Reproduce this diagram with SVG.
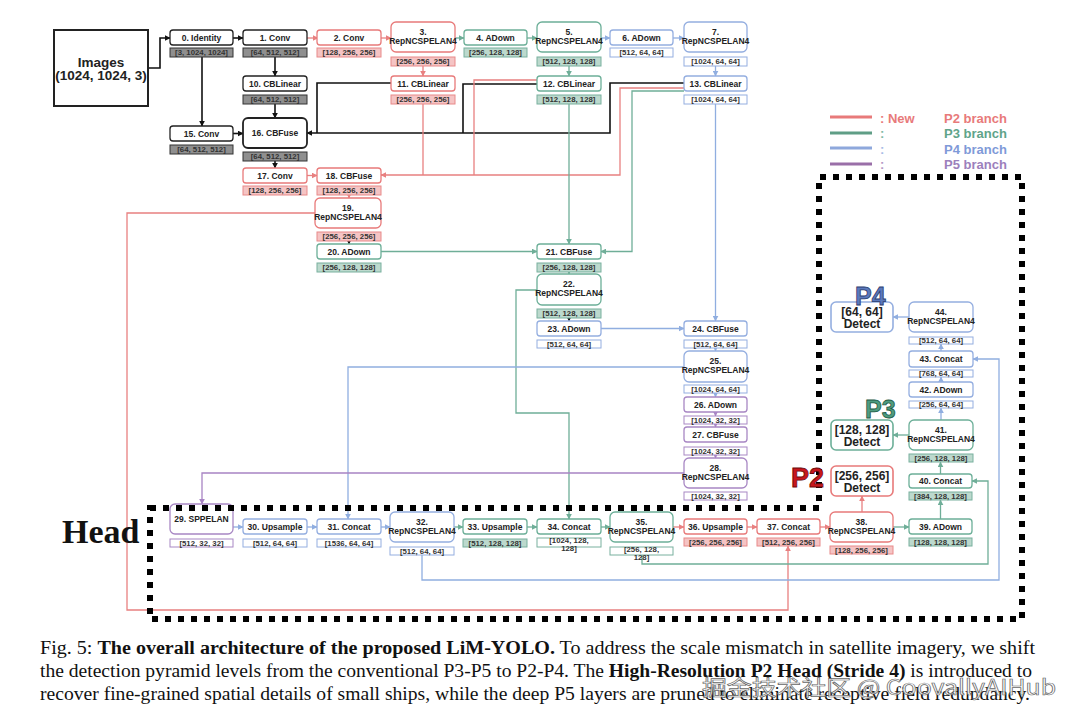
<svg xmlns="http://www.w3.org/2000/svg" width="1080" height="719" viewBox="0 0 1080 719">
<style>
.n{fill:#fff;stroke-width:1.3;rx:3px}
.n2{fill:#fff;stroke-width:1.3;rx:5px}
.k{stroke:#222}.r{stroke:#e87a7a}.g{stroke:#6caf98}.b{stroke:#94aee0}.p{stroke:#a887c4}
.l{stroke-width:1}
.lk{fill:#8f8f8f;stroke:#333}.lr{fill:#f5c4c4;stroke:#e88a8a}.lg{fill:#bcd9cd;stroke:#79b09e}.lb{fill:#fff;stroke:#94aee0}.lp{fill:#fff;stroke:#a887c4}
.t{font-family:"Liberation Sans",Arial,sans-serif;font-weight:bold;font-size:8.5px;fill:#222;text-anchor:middle}
.lt{font-family:"Liberation Sans",Arial,sans-serif;font-weight:bold;font-size:7.8px;fill:#333;text-anchor:middle}
.c{fill:none;stroke-width:1.3}
.ck{stroke:#111;stroke-width:1.6}.cr{stroke:#e88080}.cg{stroke:#6fae98}.cb{stroke:#90aee0}.cp{stroke:#a884c4}
.leg{font-family:"Liberation Sans",Arial,sans-serif;font-weight:bold;font-size:13px}
.det{font-family:"Liberation Sans",Arial,sans-serif;font-weight:bold;font-size:12px;fill:#222;text-anchor:middle}
.cap{font-family:"Liberation Serif","Times New Roman",serif;font-size:18px;fill:#111}
</style>
<defs>
<marker id="ak" viewBox="0 0 10 10" refX="9" refY="5" markerWidth="6" markerHeight="6" markerUnits="userSpaceOnUse" orient="auto"><path d="M0,0L10,5L0,10z" fill="#111"/></marker>
<marker id="ar" viewBox="0 0 10 10" refX="9" refY="5" markerWidth="6" markerHeight="6" markerUnits="userSpaceOnUse" orient="auto"><path d="M0,0L10,5L0,10z" fill="#e88080"/></marker>
<marker id="ag" viewBox="0 0 10 10" refX="9" refY="5" markerWidth="6" markerHeight="6" markerUnits="userSpaceOnUse" orient="auto"><path d="M0,0L10,5L0,10z" fill="#6fae98"/></marker>
<marker id="ab" viewBox="0 0 10 10" refX="9" refY="5" markerWidth="6" markerHeight="6" markerUnits="userSpaceOnUse" orient="auto"><path d="M0,0L10,5L0,10z" fill="#90aee0"/></marker>
<marker id="ap" viewBox="0 0 10 10" refX="9" refY="5" markerWidth="6" markerHeight="6" markerUnits="userSpaceOnUse" orient="auto"><path d="M0,0L10,5L0,10z" fill="#a884c4"/></marker>
</defs>
<rect width="1080" height="719" fill="#fff"/>

<g id="connectors">
<g class="c ck" marker-end="url(#ak)">
<path d="M148,68H160V38H170"/><path d="M233,38H243"/><path d="M275,57V76"/><path d="M275,104V118"/><path d="M202,57V126"/><path d="M233,133.5H243"/><path d="M275,161V168"/><path d="M684,83H610V133H307"/><path d="M349,241V244" style="stroke-width:1"/><path d="M569,318V321" style="stroke-width:1"/>
</g>
<g class="c ck"><path d="M391,83H317V133"/><path d="M537,84H463V133"/></g>
<g class="c cr" marker-end="url(#ar)">
<path d="M307,38H318"/><path d="M381,38H391"/><path d="M423,66V76"/><path d="M307,175.5H317"/><path d="M349,195V198"/><path d="M684,88H620V175H381"/><path d="M317,213H127V610H788V546"/><path d="M673,527H684"/><path d="M747,527H757"/><path d="M820,527H830"/><path d="M862,512V496"/>
</g>
<g class="c cr"><path d="M423,104V175"/><path d="M537,80H474V175"/></g>
<g class="c cg" marker-end="url(#ag)">
<path d="M455,38H464"/><path d="M527,38H537"/><path d="M569,66V76"/><path d="M569,104V244"/><path d="M381,251.5H537"/><path d="M684,91H632V251.5H601"/><path d="M569,272V274"/><path d="M537,290H516V413H569V519"/><path d="M454,527H463"/><path d="M527,527H537"/><path d="M601,527H610"/><path d="M642,555V564H988V481H972"/><path d="M893,527H909"/><path d="M940.5,519V500"/><path d="M940.5,474V462"/><path d="M909,435H893"/>
</g>
<g class="c cb" marker-end="url(#ab)">
<path d="M601,38H610"/><path d="M673,38H684"/><path d="M715.5,66V76"/><path d="M715.5,104V321"/><path d="M601,328.5H684"/><path d="M715.5,348V351"/><path d="M684,367H348V519"/><path d="M233,527H243"/><path d="M307,527H317"/><path d="M381,527H390"/><path d="M422,555V580H999V359H973"/><path d="M941,420V408"/><path d="M941,382V377"/><path d="M941,351V344"/><path d="M909,317H893"/><path d="M715.5,393V397"/>
</g>
<g class="c cp" marker-end="url(#ap)">
<path d="M715.5,412V416"/><path d="M715.5,424V427"/><path d="M715.5,455V458"/><path d="M684,473H202V504"/>
</g>
</g>

<g id="images"><rect x="54" y="30" width="94" height="76" fill="#fff" stroke="#222" stroke-width="2"/><text x="101" y="67" style="font-family:'Liberation Sans',Arial,sans-serif;font-weight:bold;font-size:13.5px;fill:#222;text-anchor:middle">Images</text><text x="101" y="80" style="font-family:'Liberation Sans',Arial,sans-serif;font-weight:bold;font-size:13.5px;fill:#222;text-anchor:middle">(1024, 1024, 3)</text></g>

<g id="n0"><rect class="n k" x="170" y="30" width="63" height="15"/><text class="t" x="201.5" y="40.5">0. Identity</text><rect class="l lk" x="170" y="48" width="63" height="9"/><text class="lt" x="201.5" y="55.3">[3, 1024, 1024]</text></g>
<g id="n1"><rect class="n k" x="243" y="30" width="64" height="15"/><text class="t" x="275" y="40.5">1. Conv</text><rect class="l lk" x="243" y="48" width="64" height="9"/><text class="lt" x="275" y="55.3">[64, 512, 512]</text></g>
<g id="n2"><rect class="n r" x="317" y="30" width="64" height="15"/><text class="t" x="349" y="40.5">2. Conv</text><rect class="l lr" x="317" y="48" width="64" height="9"/><text class="lt" x="349" y="55.3">[128, 256, 256]</text></g>
<g id="n3"><rect class="n2 r" x="391" y="22" width="64" height="30"/><text class="t" x="423" y="35">3.</text><text class="t" x="423" y="44">RepNCSPELAN4</text><rect class="l lr" x="391" y="57" width="64" height="9"/><text class="lt" x="423" y="64.3">[256, 256, 256]</text></g>
<g id="n4"><rect class="n g" x="464" y="30" width="63" height="15"/><text class="t" x="495.5" y="40.5">4. ADown</text><rect class="l lg" x="464" y="48" width="63" height="9"/><text class="lt" x="495.5" y="55.3">[256, 128, 128]</text></g>
<g id="n5"><rect class="n2 g" x="537" y="22" width="64" height="30"/><text class="t" x="569" y="35">5.</text><text class="t" x="569" y="44">RepNCSPELAN4</text><rect class="l lg" x="537" y="57" width="64" height="9"/><text class="lt" x="569" y="64.3">[512, 128, 128]</text></g>
<g id="n6"><rect class="n b" x="610" y="30" width="63" height="15"/><text class="t" x="641.5" y="40.5">6. ADown</text><rect class="l lb" x="610" y="48" width="63" height="9"/><text class="lt" x="641.5" y="55.3">[512, 64, 64]</text></g>
<g id="n7"><rect class="n2 b" x="684" y="22" width="63" height="30"/><text class="t" x="715.5" y="35">7.</text><text class="t" x="715.5" y="44">RepNCSPELAN4</text><rect class="l lb" x="684" y="57" width="63" height="9"/><text class="lt" x="715.5" y="64.3">[1024, 64, 64]</text></g>
<g id="n10"><rect class="n k" x="243" y="76" width="64" height="15"/><text class="t" x="275" y="86.5">10. CBLinear</text><rect class="l lk" x="243" y="95" width="64" height="9"/><text class="lt" x="275" y="102.3">[64, 512, 512]</text></g>
<g id="n11"><rect class="n r" x="391" y="76" width="64" height="15"/><text class="t" x="423" y="86.5">11. CBLinear</text><rect class="l lr" x="391" y="95" width="64" height="9"/><text class="lt" x="423" y="102.3">[256, 256, 256]</text></g>
<g id="n12"><rect class="n g" x="537" y="76" width="64" height="15"/><text class="t" x="569" y="86.5">12. CBLinear</text><rect class="l lg" x="537" y="95" width="64" height="9"/><text class="lt" x="569" y="102.3">[512, 128, 128]</text></g>
<g id="n13"><rect class="n b" x="684" y="76" width="63" height="15"/><text class="t" x="715.5" y="86.5">13. CBLinear</text><rect class="l lb" x="684" y="95" width="63" height="9"/><text class="lt" x="715.5" y="102.3">[1024, 64, 64]</text></g>
<g id="n15"><rect class="n k" x="170" y="126" width="63" height="15"/><text class="t" x="201.5" y="136.5">15. Conv</text><rect class="l lk" x="170" y="145" width="63" height="9"/><text class="lt" x="201.5" y="152.3">[64, 512, 512]</text></g>
<g id="n16"><rect class="n2 k" x="243" y="118" width="64" height="30" style="stroke-width:1.8"/><text class="t" x="275" y="136">16. CBFuse</text><rect class="l lk" x="243" y="152" width="64" height="9"/><text class="lt" x="275" y="159.3">[64, 512, 512]</text></g>
<g id="n17"><rect class="n r" x="243" y="168" width="64" height="15"/><text class="t" x="275" y="178.5">17. Conv</text><rect class="l lr" x="243" y="186" width="64" height="9"/><text class="lt" x="275" y="193.3">[128, 256, 256]</text></g>
<g id="n18"><rect class="n r" x="317" y="168" width="64" height="15"/><text class="t" x="349" y="178.5">18. CBFuse</text><rect class="l lr" x="317" y="186" width="64" height="9"/><text class="lt" x="349" y="193.3">[128, 256, 256]</text></g>
<g id="n19"><rect class="n2 r" x="315" y="198" width="66" height="30"/><text class="t" x="348" y="211">19.</text><text class="t" x="348" y="220">RepNCSPELAN4</text><rect class="l lr" x="317" y="232" width="64" height="9"/><text class="lt" x="349" y="239.3">[256, 256, 256]</text></g>
<g id="n20"><rect class="n g" x="317" y="244" width="64" height="15"/><text class="t" x="349" y="254.5">20. ADown</text><rect class="l lg" x="317" y="263" width="64" height="9"/><text class="lt" x="349" y="270.3">[256, 128, 128]</text></g>
<g id="n21"><rect class="n g" x="537" y="244" width="64" height="15"/><text class="t" x="569" y="254.5">21. CBFuse</text><rect class="l lg" x="537" y="263" width="64" height="9"/><text class="lt" x="569" y="270.3">[256, 128, 128]</text></g>
<g id="n22"><rect class="n2 g" x="537" y="274" width="64" height="31"/><text class="t" x="569" y="287">22.</text><text class="t" x="569" y="296">RepNCSPELAN4</text><rect class="l lg" x="537" y="309" width="64" height="9"/><text class="lt" x="569" y="316.3">[512, 128, 128]</text></g>
<g id="n23"><rect class="n b" x="537" y="321" width="64" height="15"/><text class="t" x="569" y="331.5">23. ADown</text><rect class="l lb" x="537" y="340" width="64" height="8"/><text class="lt" x="569" y="346.8">[512, 64, 64]</text></g>
<g id="n24"><rect class="n b" x="684" y="321" width="63" height="15"/><text class="t" x="715.5" y="331.5">24. CBFuse</text><rect class="l lb" x="684" y="340" width="63" height="8"/><text class="lt" x="715.5" y="346.8">[512, 64, 64]</text></g>
<g id="n25"><rect class="n2 b" x="684" y="351" width="63" height="31"/><text class="t" x="715.5" y="364">25.</text><text class="t" x="715.5" y="373">RepNCSPELAN4</text><rect class="l lb" x="684" y="385" width="63" height="8"/><text class="lt" x="715.5" y="391.8">[1024, 64, 64]</text></g>
<g id="n26"><rect class="n p" x="684" y="397" width="63" height="15"/><text class="t" x="715.5" y="407.5">26. ADown</text><rect class="l lp" x="684" y="416" width="63" height="8"/><text class="lt" x="715.5" y="422.8">[1024, 32, 32]</text></g>
<g id="n27"><rect class="n p" x="684" y="427" width="63" height="15"/><text class="t" x="715.5" y="437.5">27. CBFuse</text><rect class="l lp" x="684" y="447" width="63" height="8"/><text class="lt" x="715.5" y="453.8">[1024, 32, 32]</text></g>
<g id="n28"><rect class="n2 p" x="684" y="458" width="63" height="30"/><text class="t" x="715.5" y="471">28.</text><text class="t" x="715.5" y="480">RepNCSPELAN4</text><rect class="l lp" x="684" y="492" width="63" height="8"/><text class="lt" x="715.5" y="498.8">[1024, 32, 32]</text></g>
<g id="n29"><rect class="n2 p" x="170" y="504" width="63" height="30"/><text class="t" x="201.5" y="522">29. SPPELAN</text><rect class="l lp" x="170" y="539" width="63" height="8"/><text class="lt" x="201.5" y="545.8">[512, 32, 32]</text></g>
<g id="n30"><rect class="n b" x="243" y="519" width="64" height="15"/><text class="t" x="275" y="529.5">30. Upsample</text><rect class="l lb" x="243" y="539" width="64" height="8"/><text class="lt" x="275" y="545.8">[512, 64, 64]</text></g>
<g id="n31"><rect class="n b" x="317" y="519" width="64" height="15"/><text class="t" x="349" y="529.5">31. Concat</text><rect class="l lb" x="317" y="539" width="64" height="8"/><text class="lt" x="349" y="545.8">[1536, 64, 64]</text></g>
<g id="n32"><rect class="n2 b" x="390" y="512" width="64" height="30"/><text class="t" x="422" y="525">32.</text><text class="t" x="422" y="534">RepNCSPELAN4</text><rect class="l lb" x="390" y="547" width="64" height="8"/><text class="lt" x="422" y="553.8">[512, 64, 64]</text></g>
<g id="n33"><rect class="n g" x="463" y="519" width="64" height="15"/><text class="t" x="495" y="529.5">33. Upsample</text><rect class="l lg" x="463" y="539" width="64" height="8"/><text class="lt" x="495" y="545.8">[512, 128, 128]</text></g>
<g id="n34"><rect class="n g" x="537" y="519" width="64" height="15"/><text class="t" x="569" y="529.5">34. Concat</text><rect class="l lb" x="537" y="538" width="64" height="9" style="stroke:#79b09e"/><text class="lt" x="569" y="542.5">[1024, 128,</text><text class="lt" x="569" y="550.5">128]</text></g>
<g id="n35"><rect class="n2 g" x="610" y="512" width="63" height="30"/><text class="t" x="641.5" y="525">35.</text><text class="t" x="641.5" y="534">RepNCSPELAN4</text><rect class="l lb" x="610" y="547" width="63" height="8" style="stroke:#79b09e"/><text class="lt" x="641.5" y="551.5">[256,  128,</text><text class="lt" x="641.5" y="559.5">128]</text></g>
<g id="n36"><rect class="n r" x="684" y="519" width="63" height="15"/><text class="t" x="715.5" y="529.5">36. Upsample</text><rect class="l lr" x="684" y="538" width="63" height="8"/><text class="lt" x="715.5" y="544.8">[256, 256, 256]</text></g>
<g id="n37"><rect class="n r" x="757" y="519" width="63" height="15"/><text class="t" x="788.5" y="529.5">37. Concat</text><rect class="l lr" x="757" y="538" width="63" height="8"/><text class="lt" x="788.5" y="544.8">[512, 256, 256]</text></g>
<g id="n38"><rect class="n2 r" x="830" y="512" width="63" height="30"/><text class="t" x="861.5" y="525">38.</text><text class="t" x="861.5" y="534">RepNCSPELAN4</text><rect class="l lr" x="830" y="546" width="63" height="8"/><text class="lt" x="861.5" y="552.8">[128, 256, 256]</text></g>
<g id="n39"><rect class="n g" x="909" y="519" width="63" height="15"/><text class="t" x="940.5" y="529.5">39. ADown</text><rect class="l lg" x="909" y="538" width="63" height="8"/><text class="lt" x="940.5" y="544.8">[128, 128, 128]</text></g>
<g id="n40"><rect class="n g" x="909" y="474" width="63" height="14"/><text class="t" x="940.5" y="484">40. Concat</text><rect class="l lg" x="909" y="492" width="63" height="8"/><text class="lt" x="940.5" y="498.8">[384, 128, 128]</text></g>
<g id="n41"><rect class="n2 g" x="909" y="420" width="64" height="30"/><text class="t" x="941" y="433">41.</text><text class="t" x="941" y="442">RepNCSPELAN4</text><rect class="l lg" x="909" y="454" width="64" height="8"/><text class="lt" x="941" y="460.8">[256,  128, 128]</text></g>
<g id="n42"><rect class="n b" x="909" y="382" width="64" height="15"/><text class="t" x="941" y="392.5">42. ADown</text><rect class="l lb" x="909" y="401" width="64" height="7"/><text class="lt" x="941" y="407.3">[256, 64, 64]</text></g>
<g id="n43"><rect class="n b" x="909" y="351" width="64" height="16"/><text class="t" x="941" y="362">43. Concat</text><rect class="l lb" x="909" y="370" width="64" height="7"/><text class="lt" x="941" y="376.3">[768, 64, 64]</text></g>
<g id="n44"><rect class="n2 b" x="909" y="302" width="64" height="30"/><text class="t" x="941" y="315">44.</text><text class="t" x="941" y="324">RepNCSPELAN4</text><rect class="l lb" x="909" y="337" width="64" height="7"/><text class="lt" x="941" y="343.3">[512, 64, 64]</text></g>

<g id="detP4"><rect x="831" y="302" width="62" height="30" rx="5" fill="#fff" stroke="#94aee0" stroke-width="1.6"/><text class="det" x="862" y="316">[64, 64]</text><text class="det" x="862" y="328">Detect</text></g>
<g id="detP3"><rect x="831" y="420" width="62" height="30" rx="5" fill="#fff" stroke="#6caf98" stroke-width="1.6"/><text class="det" x="862" y="433.5">[128, 128]</text><text class="det" x="862" y="445.5">Detect</text></g>
<g id="detP2"><rect x="831" y="466" width="62" height="30" rx="5" fill="#fff" stroke="#e87a7a" stroke-width="1.6"/><text class="det" x="862" y="479.5">[256, 256]</text><text class="det" x="862" y="491.5">Detect</text></g>

<g id="legend">
<line x1="830" y1="117" x2="872" y2="117" stroke="#e87a7a" stroke-width="3"/>
<line x1="830" y1="133" x2="872" y2="133" stroke="#5f9e86" stroke-width="3"/>
<line x1="830" y1="148" x2="872" y2="148" stroke="#8ea8dc" stroke-width="3"/>
<line x1="830" y1="164" x2="872" y2="164" stroke="#9a6fa8" stroke-width="3"/>
<text class="leg" x="880" y="123" fill="#e87a7a">: New</text>
<text class="leg" x="880" y="138" fill="#7fb9a5">:</text>
<text class="leg" x="880" y="154" fill="#a8bce6">:</text>
<text class="leg" x="880" y="169" fill="#b59ac6">:</text>
<text class="leg" x="944" y="123" fill="#e87a7a">P2 branch</text>
<text class="leg" x="944" y="138" fill="#5fa48a">P3 branch</text>
<text class="leg" x="944" y="154" fill="#7f9ad8">P4 branch</text>
<text class="leg" x="944" y="169" fill="#9c80bc">P5 branch</text>
</g>

<path id="head-border" d="M150,508H819V177H1022V619H150Z" fill="none" stroke="#000" stroke-width="6" stroke-dasharray="6 7"/>

<text x="62" y="543" style="font-family:'Liberation Serif','Times New Roman',serif;font-weight:bold;font-size:34px;fill:#111">Head</text>
<text x="855" y="305" style="font-family:'Liberation Sans',Arial,sans-serif;font-weight:bold;font-size:25px;fill:#5a79bd;stroke:#2c3e70;stroke-width:0.8">P4</text>
<text x="865" y="418" style="font-family:'Liberation Sans',Arial,sans-serif;font-weight:bold;font-size:25px;fill:#4e9c80;stroke:#1f5a44;stroke-width:0.8">P3</text>
<text x="791" y="487" style="font-family:'Liberation Sans',Arial,sans-serif;font-weight:bold;font-size:27px;fill:#c8161d;stroke:#6a0a0a;stroke-width:0.8">P2</text>

<g id="caption">
<text class="cap" x="40" y="654" textLength="995" lengthAdjust="spacingAndGlyphs">Fig. 5: <tspan font-weight="bold">The overall architecture of the proposed LiM-YOLO.</tspan> To address the scale mismatch in satellite imagery, we shift</text>
<text class="cap" x="40" y="677" textLength="992" lengthAdjust="spacingAndGlyphs">the detection pyramid levels from the conventional P3-P5 to P2-P4. The <tspan font-weight="bold">High-Resolution P2 Head (Stride 4)</tspan> is introduced to</text>
<text class="cap" x="40" y="700" textLength="990" lengthAdjust="spacingAndGlyphs">recover fine-grained spatial details of small ships, while the deep P5 layers are pruned to eliminate receptive field redundancy.</text>
</g>
<text x="702" y="695" textLength="354" lengthAdjust="spacingAndGlyphs" style="font-family:'Noto Sans CJK SC','Noto Sans',sans-serif;font-size:21px;fill:#fff;fill-opacity:0.85;stroke:#666;stroke-width:0.7">掘金技术社区 @ CoovallyAIHub</text>
</svg>
